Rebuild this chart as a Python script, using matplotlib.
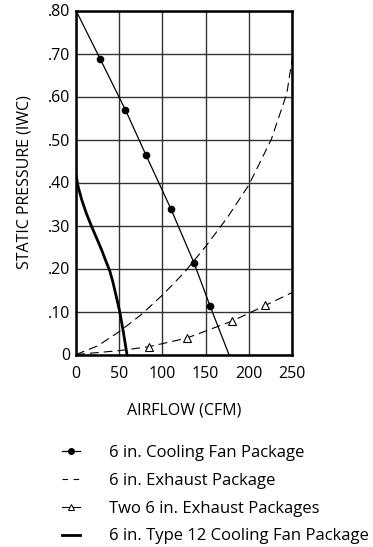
import numpy as np
import matplotlib
matplotlib.use('Agg')
import matplotlib.pyplot as plt
from matplotlib.lines import Line2D

plt.rcParams['font.family'] = ['Open Sans', 'DejaVu Sans']

# 6 in. cooling fan package (line + measured points)
fan_x = [0, 27.8, 57.2, 80.7, 110, 136.6, 155.1, 177]
fan_y = [0.80, 0.688, 0.569, 0.465, 0.338, 0.213, 0.113, 0.0]
fan_pts_x = [27.8, 57.2, 80.7, 110, 136.6, 155.1]
fan_pts_y = [0.688, 0.569, 0.465, 0.338, 0.213, 0.113]

# 6 in. exhaust package (system curve)
exh_x = [0, 25, 50, 75, 100, 125, 150, 175, 200, 226, 244, 250]
exh_y = [0.0, 0.02, 0.053, 0.092, 0.138, 0.19, 0.251, 0.318, 0.394, 0.50, 0.607, 0.685]

# two 6 in. exhaust packages
two_x = [0, 50, 84, 128, 181, 219, 250]
two_y = [0.0, 0.009, 0.018, 0.038, 0.078, 0.114, 0.144]
two_pts_x = [84, 128, 181, 219]
two_pts_y = [0.018, 0.038, 0.078, 0.114]

# 6 in. type 12 cooling fan package
t12_x = [0, 2.5, 6.6, 12, 18.2, 24, 29.7, 35, 39, 42.5, 46, 50.6, 55, 59]
t12_y = [0.418, 0.39, 0.36, 0.328, 0.297, 0.27, 0.243, 0.215, 0.195, 0.17, 0.14, 0.10, 0.05, 0.0]

xticks = [0, 50, 100, 150, 200, 250]
yticks = [0, 0.1, 0.2, 0.3, 0.4, 0.5, 0.6, 0.7, 0.8]
ytick_labels = ['0', '.10', '.20', '.30', '.40', '.50', '.60', '.70', '.80']

labels = ['6 in. Cooling Fan Package', '6 in. Exhaust Package',
          'Two 6 in. Exhaust Packages', '6 in. Type 12 Cooling Fan Package']

fs = 11.5

fig = plt.figure(figsize=(3.73, 5.47), dpi=100)
ax = fig.add_axes([76 / 373, 1 - 354.5 / 547, 216 / 373, 344 / 547])

dash = (8, 4.5)

ax.plot(fan_x, fan_y, color='black', lw=0.9)
ax.plot(fan_pts_x, fan_pts_y, 'o', color='black', ms=4.5)
ax.plot(exh_x, exh_y, color='black', lw=0.8, dashes=dash)
ax.plot(two_x, two_y, color='black', lw=0.8, dashes=dash)
ax.plot(two_pts_x, two_pts_y, '^', mfc='white', mec='black', mew=0.8, ms=6)
ax.plot(t12_x, t12_y, color='black', lw=2.0, solid_joinstyle='round')

ax.set_xlim(0, 250)
ax.set_ylim(0, 0.8)
ax.set_xticks(xticks)
ax.set_yticks(yticks)
ax.set_yticklabels(ytick_labels)
ax.grid(True, color='#333333', lw=1.0)
ax.set_axisbelow(True)
ax.tick_params(length=0, labelsize=fs)
ax.tick_params(axis='x', pad=8)
ax.tick_params(axis='y', pad=4)
for s in ax.spines.values():
    s.set_linewidth(1.8)

ax.set_xlabel('AIRFLOW (CFM)', fontsize=fs, labelpad=15)
ax.set_ylabel('STATIC PRESSURE (IWC)', fontsize=fs, labelpad=11)

# legend under the plot
handles = [
    Line2D([], [], color='black', lw=0.9, marker='o', ms=4),
    Line2D([], [], color='black', lw=0.8, dashes=(5, 5)),
    Line2D([], [], color='black', lw=0.8, marker='^', mfc='white', ms=5, mew=0.7),
    Line2D([], [], color='black', lw=2.0),
]
fig.legend(handles, labels, loc='upper left', bbox_to_anchor=(62 / 373, 1 - 445 / 547),
           frameon=False, fontsize=12, handlelength=1.05, handletextpad=1.75,
           labelspacing=0.71, numpoints=1, borderpad=0, borderaxespad=0)

fig.savefig('out.png', dpi=100)
